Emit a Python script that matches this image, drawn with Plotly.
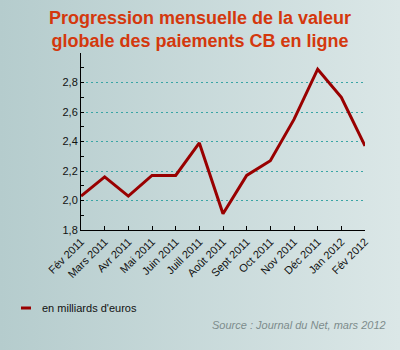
import base64
import plotly.graph_objects as go

months = ["Fév 2011", "Mars 2011", "Avr 2011", "Mai 2011", "Juin 2011", "Juill 2011",
          "Août 2011", "Sept 2011", "Oct 2011", "Nov 2011", "Déc 2011", "Jan 2012", "Fév 2012"]
values = [2.03, 2.16, 2.03, 2.17, 2.17, 2.39, 1.91, 2.17, 2.27, 2.55, 2.89, 2.70, 2.37]
y_ticks = [1.8, 2.0, 2.2, 2.4, 2.6, 2.8]
series_name = "en milliards d'euros"
line_color = "#990000"

W, H = 400, 350
L, R, T, B = 81, 35, 53, 120
pw, ph = W - L - R, H - T - B

svg = ('<svg xmlns="http://www.w3.org/2000/svg" width="400" height="350" preserveAspectRatio="none">'
       '<defs><linearGradient id="g" x1="0" x2="1" y1="0" y2="0">'
       '<stop offset="0" stop-color="#b5cccd"/><stop offset="1" stop-color="#dbe7e7"/>'
       '</linearGradient></defs><rect width="400" height="350" fill="url(#g)"/></svg>')
src = "data:image/svg+xml;base64," + base64.b64encode(svg.encode()).decode()

def px_x(p):
    return (p - L) / pw

def px_y(p):
    return (T + ph - p) / ph

fig = go.Figure()
fig.add_trace(go.Scatter(
    x=months, y=values, mode="lines", name=series_name,
    line=dict(color=line_color, width=3), cliponaxis=False,
))

fig.update_layout(
    width=W, height=H,
    margin=dict(l=L, r=R, t=T, b=B, autoexpand=False),
    paper_bgcolor="#c8d9da",
    plot_bgcolor="rgba(0,0,0,0)",
    separators=", ",
    font=dict(family="Liberation Sans, Arial, sans-serif", size=11, color="#111111"),
    title=dict(
        text="<b>Progression mensuelle de la valeur<br>globale des paiements CB en ligne</b>",
        x=0.5, xref="container", xanchor="center",
        y=1 - 24 / H, yref="container", yanchor="middle",
        font=dict(family="Liberation Sans, Arial, sans-serif", size=18, color="#d4380d"),
    ),
    showlegend=False,
    images=[dict(
        source=src, xref="paper", yref="paper",
        x=-L / pw, y=1 + T / ph, sizex=W / pw, sizey=H / ph,
        xanchor="left", yanchor="top", sizing="stretch", layer="below",
    )],
    shapes=[dict(
        type="line", xref="paper", yref="paper",
        x0=px_x(21), x1=px_x(31), y0=px_y(308), y1=px_y(308),
        line=dict(color=line_color, width=3),
    )],
    annotations=[
        dict(
            text=series_name,
            xref="paper", yref="paper", x=px_x(40), y=px_y(308),
            xanchor="left", yanchor="middle", showarrow=False,
            font=dict(size=11, color="#111111"),
        ),
        dict(
            text="<i>Source : Journal du Net, mars 2012</i>",
            xref="paper", yref="paper", x=px_x(388), y=px_y(325),
            xanchor="right", yanchor="middle", showarrow=False,
            font=dict(size=11, color="#7d8c8c"),
        ),
    ],
)

fig.update_xaxes(
    type="category", range=[0, len(months) - 1],
    showline=True, linecolor="#000000", linewidth=1,
    ticks="inside", ticklen=4, tickcolor="#000000",
    tickangle=-45, showgrid=False, zeroline=False,
    tickfont=dict(size=11, color="#111111"),
)
fig.update_yaxes(
    range=[1.8, 3.0], tickvals=y_ticks, tickformat=".1f",
    showline=True, linecolor="#000000", linewidth=1,
    ticks="inside", ticklen=3, tickcolor="#000000",
    showgrid=True, gridcolor="#3aa5a5", griddash="2px,3px", gridwidth=1,
    zeroline=False,
    minor=dict(dtick=0.1, tick0=1.8, ticks="inside", ticklen=3, tickcolor="#000000", showgrid=False),
    tickfont=dict(size=11, color="#111111"),
)

fig.write_html("out.html")
